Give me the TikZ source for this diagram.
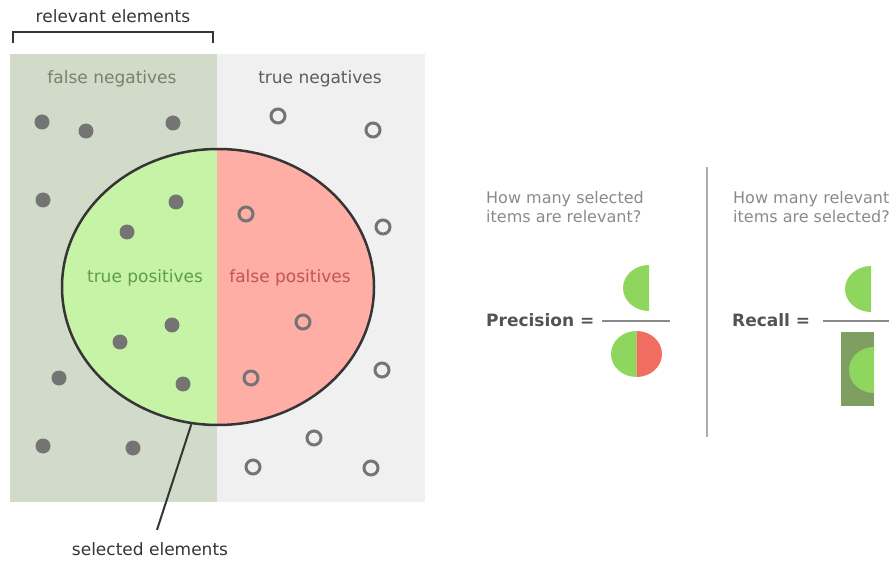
\documentclass[tikz,border=0pt]{standalone}
\usepackage{fontspec}
\setmainfont{DejaVu Sans}
\usetikzlibrary{shapes.geometric, positioning}
\definecolor{relBg}{HTML}{D2DACA}
\definecolor{restBg}{HTML}{F0F0F0}
\definecolor{tpFill}{HTML}{C6F3A6}
\definecolor{fpFill}{HTML}{FFAEA6}
\definecolor{dotGray}{HTML}{747474}
\definecolor{inkGray}{HTML}{353535}
\definecolor{fnText}{HTML}{748468}
\definecolor{tpText}{HTML}{5E9C4C}
\definecolor{fpText}{HTML}{C4525A}
\definecolor{qGray}{HTML}{8A8A8A}
\definecolor{halfGreen}{HTML}{8FD65E}
\definecolor{halfRed}{HTML}{EF6E60}
\definecolor{recDark}{HTML}{7E9E62}

\begin{document}
\begin{tikzpicture}[
x=1pt, y=-1pt,
lbl/.style={font=\fontsize{17}{20}\selectfont},
question/.style={font=\fontsize{16}{19}\selectfont, text=qGray, align=left, anchor=west, inner sep=0pt},
formula/.style={font=\fontsize{17}{20}\selectfont\bfseries, text=inkGray!85, anchor=west, inner sep=0pt},
fracline/.style={draw=qGray, line width=2pt},
]
\useasboundingbox (0,0) rectangle (889,561);

% backgrounds
\fill[relBg] (10,54) rectangle (217,502);
\fill[restBg] (217,54) rectangle (425,502);

% selected elements
\begin{scope}
\clip (0,0) rectangle (217,561);
\fill[tpFill] (218,287) ellipse [x radius=156pt, y radius=138pt];
\end{scope}
\begin{scope}
\clip (217,0) rectangle (889,561);
\fill[fpFill] (218,287) ellipse [x radius=156pt, y radius=138pt];
\end{scope}
\node[ellipse, draw=inkGray, line width=2.5pt, minimum width=312pt, minimum height=276pt, inner sep=0pt] (sel) at (218,287) {};

% relevant items
\foreach \p in {(42,122),(86,131),(173,123),(43,200),(176,202),(127,232),
                (172,325),(120,342),(59,378),(183,384),(43,446),(133,448)}
  \fill[dotGray] \p circle (7.5pt);
\foreach \p in {(278,116),(373,130),(246,214),(383,227),(303,322),
                (382,370),(251,378),(314,438),(253,467),(371,468)}
  \draw[dotGray, line width=3pt] \p circle (7pt);

% labels
\node[lbl, text=inkGray] (relLab) at (113,16) {relevant elements};
\draw[inkGray, line width=2pt] (13,43) -- (13,32) -- (213,32) -- (213,43);
\node[lbl, text=fnText] (fnLab) at (112,79) {false negatives};
\node[lbl, text=dotGray!80!black] (tnLab) at (320,79) {true negatives};
\node[lbl, text=tpText] (tpLab) at (145,278) {true positives};
\node[lbl, text=fpText] (fpLab) at (290,278) {false positives};
\node[lbl, text=inkGray] (selLab) at (150,549) {selected elements};
\draw[inkGray, line width=2pt] (sel.259) -- ([xshift=7pt,yshift=9pt]selLab.north);

% divider
\draw[line width=2pt, draw=qGray!70] (707,167) -- (707,437);

% precision
\node[question] (qPrec) at (486,207) {How many selected\\items are relevant?};
\node[formula] (prec) at (486,320) {Precision =};
\fill[halfGreen] (649,265) arc[start angle=90, end angle=270, x radius=26pt, y radius=23pt] -- cycle;
\draw[fracline] (602,321) -- (670,321);
\fill[halfGreen] (636.5,331) arc[start angle=90, end angle=270, x radius=25.5pt, y radius=23pt] -- cycle;
\fill[halfRed] (636.5,331) arc[start angle=90, end angle=-90, x radius=25.5pt, y radius=23pt] -- cycle;

% recall
\node[question] (qRec) at (733,207) {How many relevant\\items are selected?};
\node[formula] (rec) at (732,320) {Recall =};
\fill[halfGreen] (871,266) arc[start angle=90, end angle=270, x radius=26pt, y radius=23pt] -- cycle;
\draw[fracline] (823,321) -- (889,321);
\fill[recDark] (841,332) rectangle (874,406);
\fill[halfGreen] (874,347) arc[start angle=90, end angle=270, x radius=25pt, y radius=23pt] -- cycle;
\end{tikzpicture}
\end{document}
